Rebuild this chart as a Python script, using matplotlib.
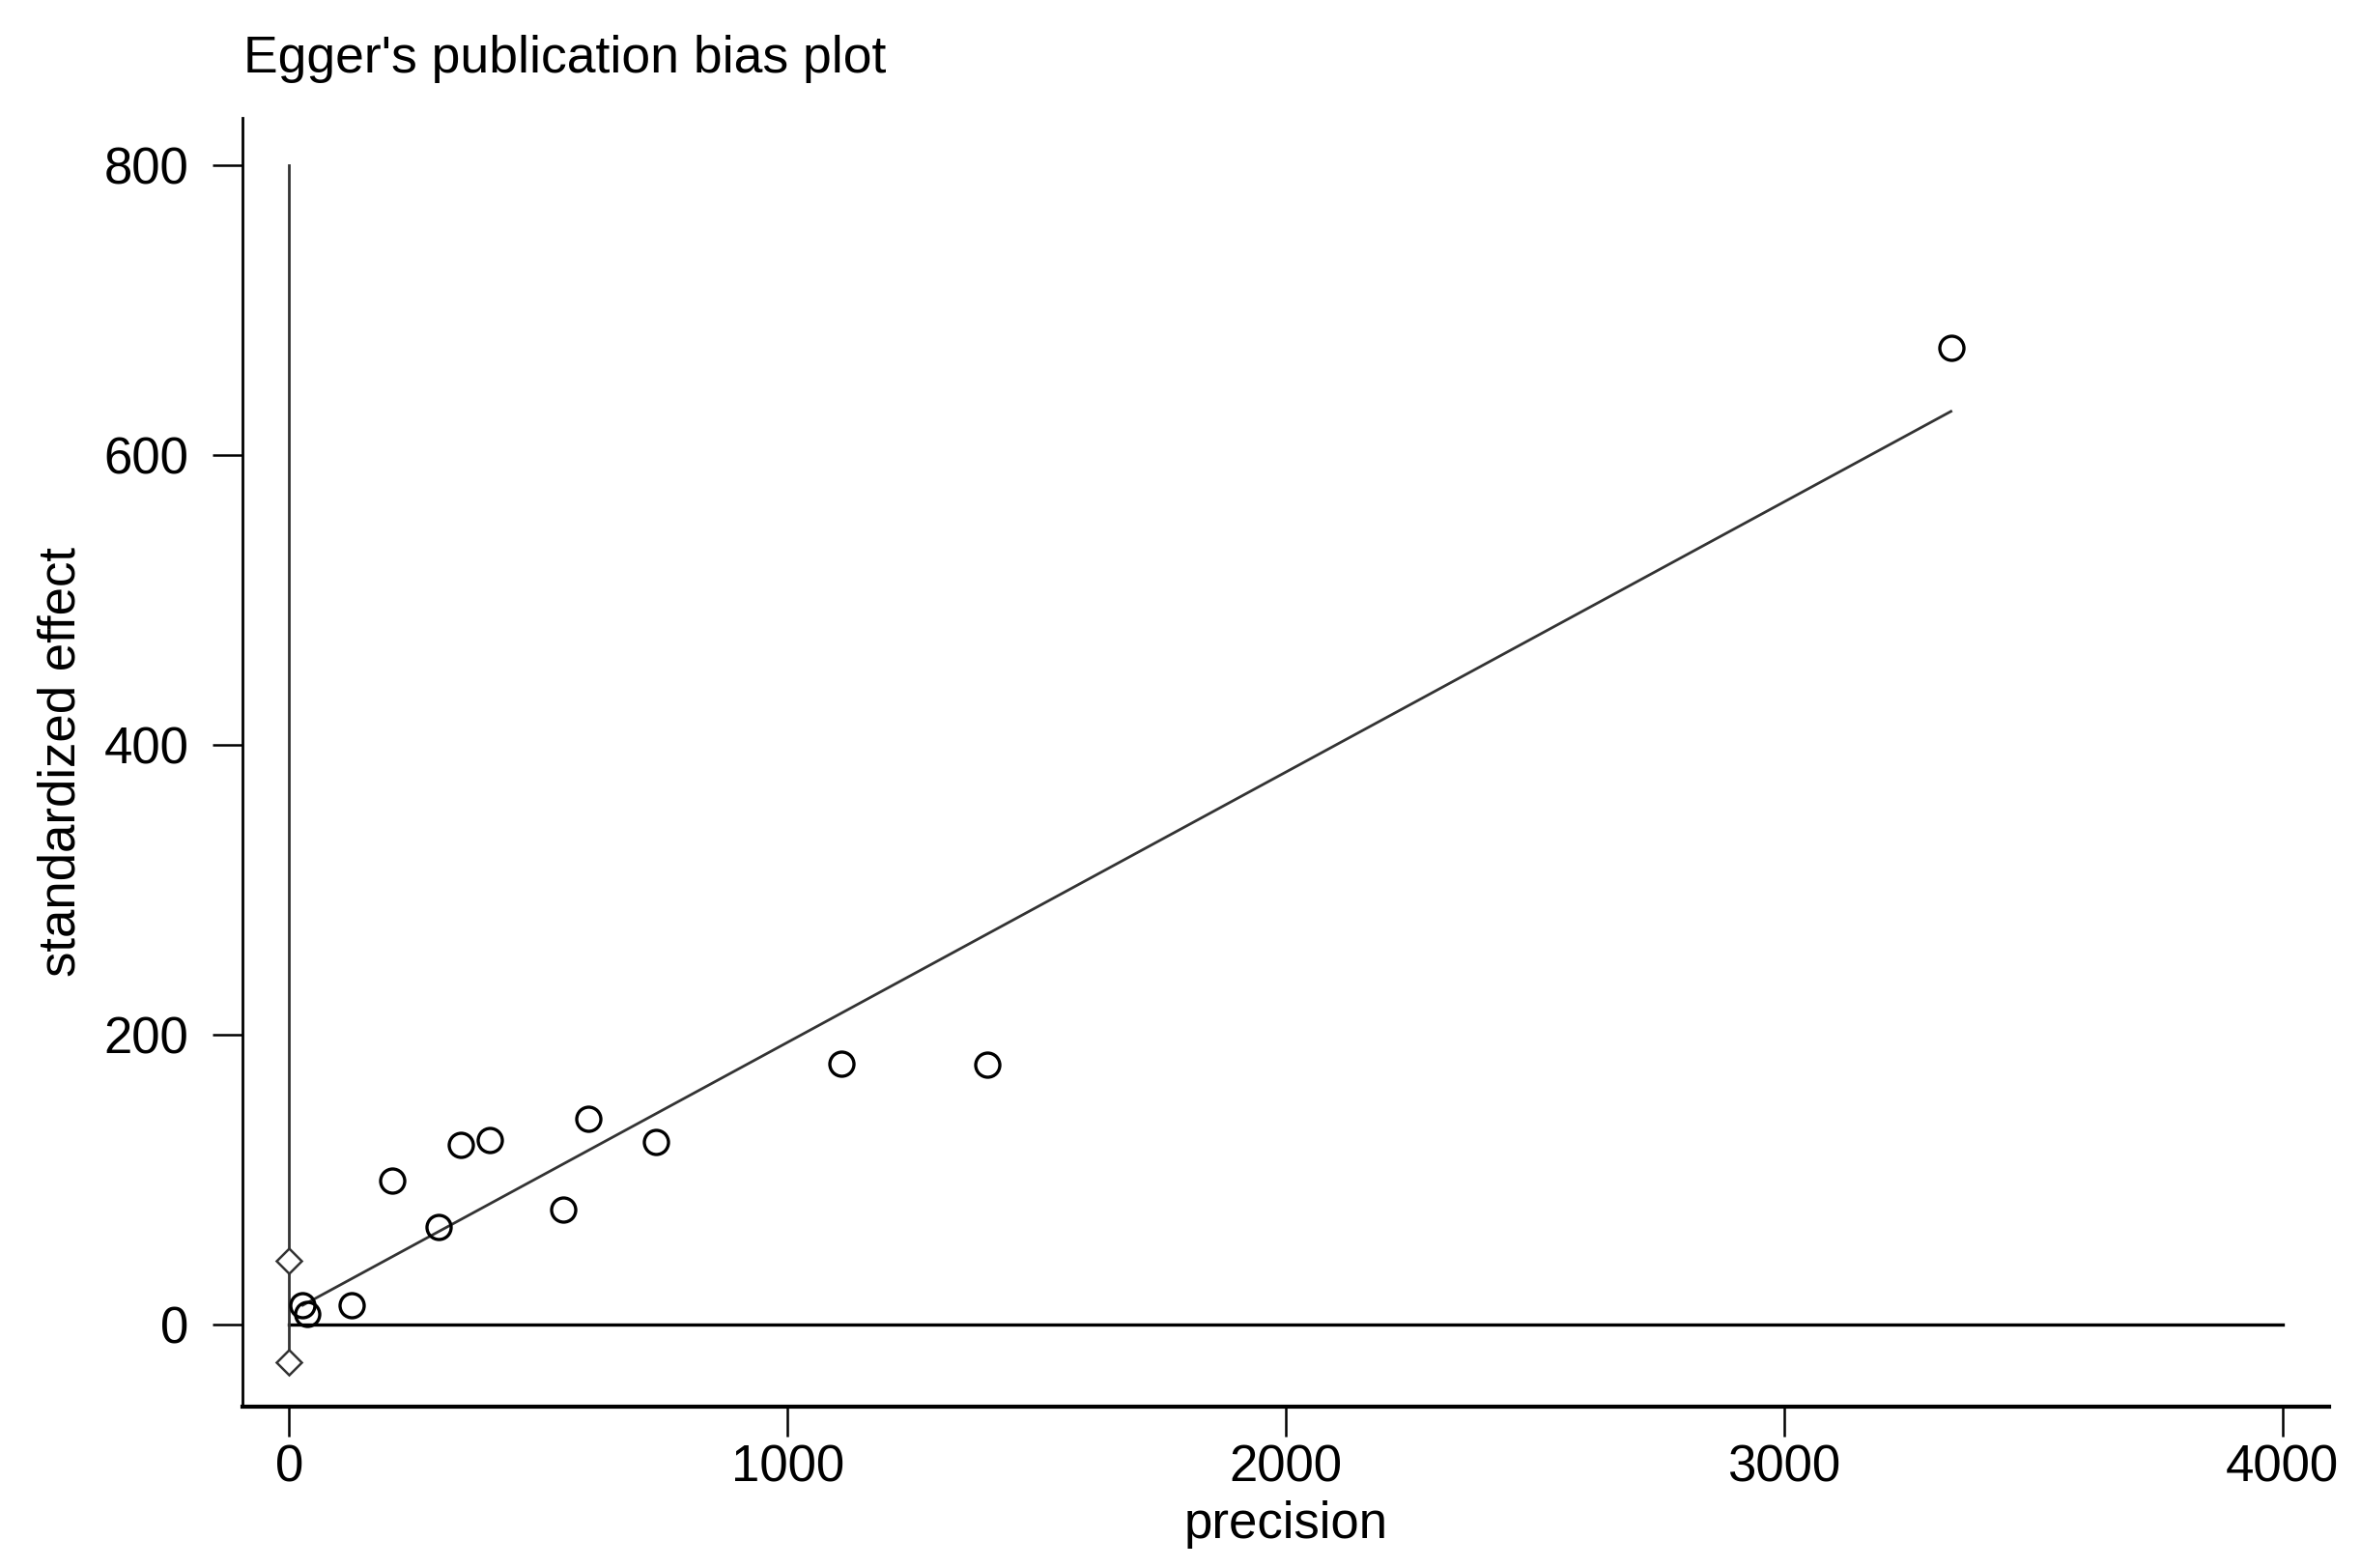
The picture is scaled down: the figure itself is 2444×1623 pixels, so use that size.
import matplotlib
matplotlib.use("Agg")
import matplotlib.pyplot as plt
import numpy as np

plt.rcParams['font.family'] = ['Liberation Sans', 'DejaVu Sans']

# ---- data ----
precision = [27, 35, 126, 206, 299, 345, 403, 550, 600, 735, 1109, 1401, 3335]
std_effect = [13, 7, 13, 99, 67, 124, 127, 79, 142, 126, 180, 179, 674]
egger_intercept = 8.0
egger_slope = 0.1866
intercept_ci = [-26, 44]
vline_top = 800
xticks = [0, 1000, 2000, 3000, 4000]
yticks = [0, 200, 400, 600, 800]

W, H = 2444, 1623
fig = plt.figure(figsize=(W / 100, H / 100), dpi=100)
ax = fig.add_axes([251 / W, 1 - 1456 / H, (2411 - 251) / W, (1456 - 122) / H])

ax.set_xlim(-94, 4094)
ax.set_ylim(-57, 833)

# zero reference line
ax.plot([0, 4000], [0, 0], color='black', lw=2.4, zorder=2)
# vertical line at precision 0 (intercept CI)
ax.plot([0, 0], [intercept_ci[0], vline_top], color='#333333', lw=2.0, zorder=2)
ax.plot([0, 0], intercept_ci, linestyle='none', marker='D', ms=13,
        mfc='white', mec='#333333', mew=1.8, zorder=4)

# regression line
fx = np.array([min(precision), max(precision)], dtype=float)
ax.plot(fx, egger_intercept + egger_slope * fx, color='#333333', lw=2.0, zorder=3)

# studies
ax.plot(precision, std_effect, linestyle='none', marker='o', ms=18,
        mfc='none', mec='black', mew=2.4, zorder=5)

for s in ['top', 'right']:
    ax.spines[s].set_visible(False)
ax.spines['left'].set_linewidth(2.0)
ax.spines['bottom'].set_linewidth(3.0)

ax.set_xticks(xticks)
ax.set_yticks(yticks)
ax.tick_params(axis='both', direction='out', length=22, width=1.8,
               labelsize=38, colors='black')
ax.tick_params(axis='x', pad=6)
ax.tick_params(axis='y', pad=18)

ax.set_xlabel('precision', fontsize=38, labelpad=6)
ax.set_ylabel('standardized effect', fontsize=38, labelpad=14)

fig.text(252 / W, 1 - 75 / H, "Egger's publication bias plot", fontsize=38.5,
         ha='left', va='baseline')

fig.savefig('out.png', dpi=100)
